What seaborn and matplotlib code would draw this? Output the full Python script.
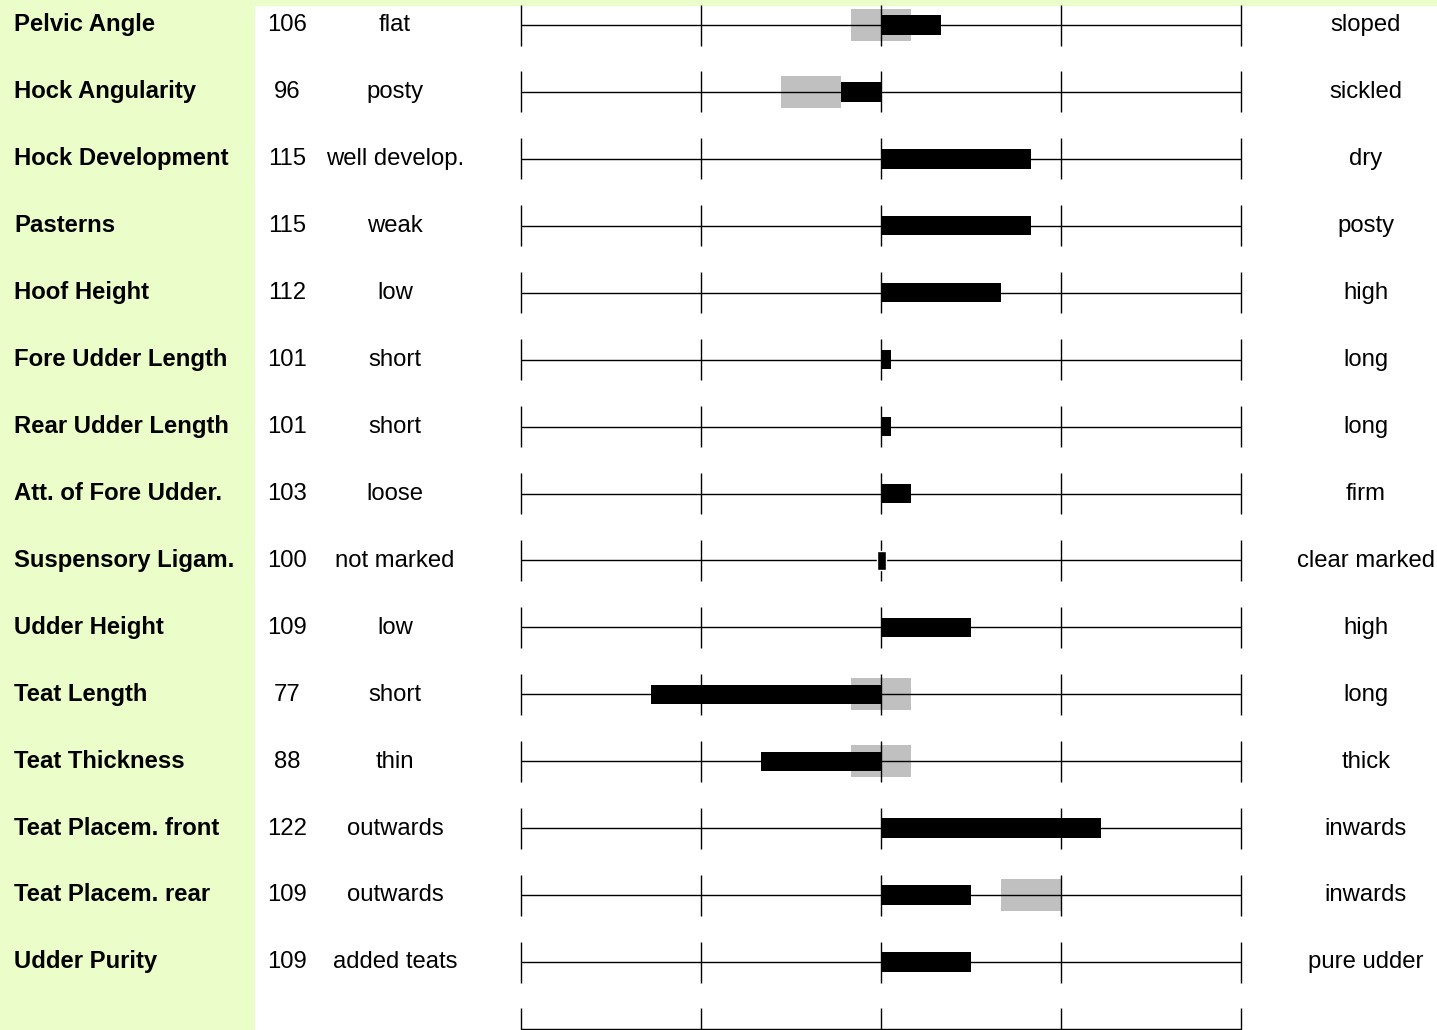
import matplotlib
matplotlib.use("Agg")
import matplotlib.pyplot as plt
import matplotlib.transforms as mtransforms
from matplotlib.patches import Rectangle
import numpy as np
import pandas as pd
import seaborn as sns

# === DATA ===
traits = ["Pelvic Angle", "Hock Angularity", "Hock Development", "Pasterns",
          "Hoof Height", "Fore Udder Length", "Rear Udder Length",
          "Att. of Fore Udder.", "Suspensory Ligam.", "Udder Height",
          "Teat Length", "Teat Thickness", "Teat Placem. front",
          "Teat Placem. rear", "Udder Purity"]
values = [106, 96, 115, 115, 112, 101, 101, 103, 100, 109, 77, 88, 122, 109, 109]
low_desc = ["flat", "posty", "well develop.", "weak", "low", "short", "short",
            "loose", "not marked", "low", "short", "thin", "outwards",
            "outwards", "added teats"]
high_desc = ["sloped", "sickled", "dry", "posty", "high", "long", "long",
             "firm", "clear marked", "high", "long", "thick", "inwards",
             "inwards", "pure udder"]

# optimum ranges shown as grey boxes
ref_traits = ["Pelvic Angle", "Hock Angularity", "Teat Length",
              "Teat Thickness", "Teat Placem. rear"]
ref_low = [97, 90, 97, 97, 112]
ref_high = [103, 96, 103, 103, 118]

scale_ticks = [64, 82, 100, 118, 136]
center = 100

# === LAYOUT (pixels of the 1437x1030 picture) ===
W, H = 1437, 1030
center_px = 881
px_per_unit = 10.0
row0_px, row_px = 25, 66.93

sns.set_theme(style="white")
plt.rcParams["font.family"] = ["Liberation Sans", "DejaVu Sans"]
plt.rcParams["text.color"] = "black"

fig = plt.figure(figsize=(W / 100, H / 100), dpi=100)
green = "#ebfdc8"
fig.patches.append(Rectangle((0, 0), 254 / W, 1, transform=fig.transFigure,
                             color=green, zorder=0))
fig.patches.append(Rectangle((0, 1 - 5 / H), 1, 5 / H, transform=fig.transFigure,
                             color=green, zorder=0))

ax = fig.add_axes([0, 0, 1, 1])
ax.set_zorder(2)
ax.patch.set_alpha(0)

df = pd.DataFrame({"trait": traits, "value": values})
df["dev"] = df["value"] - center

sns.barplot(data=df, x="dev", y="trait", order=traits, orient="h",
            color="black", width=0.29, errorbar=None, saturation=1,
            edgecolor="none", linewidth=0, zorder=3, ax=ax)

# zero deviation: small centred block
for i, d in enumerate(df["dev"]):
    if d == 0:
        ax.barh(i, 0.9, left=-0.45, height=0.29, color="black", zorder=3)

# grey optimum boxes
ref_rows = [traits.index(t) for t in ref_traits]
ax.barh(ref_rows, np.array(ref_high) - np.array(ref_low),
        left=np.array(ref_low) - center, height=0.48,
        color="#c0c0c0", linewidth=0, zorder=1)

# scale lines with ticks (one extra row at the bottom)
rows = np.arange(len(traits) + 1)
dev_ticks = [t - center for t in scale_ticks]
half = 20.5 / row_px
ax.hlines(rows, dev_ticks[0], dev_ticks[-1], color="black", lw=1.0, zorder=2)
for t in dev_ticks:
    ax.vlines(np.full(len(rows), t), rows - half, rows + half,
              color="black", lw=1.0, zorder=2)

# map axes to pixel layout
ax.set_xlim(-center_px / px_per_unit, (W - center_px) / px_per_unit)
ax.set_ylim((H - row0_px) / row_px, -row0_px / row_px)
ax.set_axis_off()

# text columns
trans = mtransforms.blended_transform_factory(fig.transFigure, ax.transData)
fs = 17.2
dy = 0.095
for i in range(len(traits)):
    y = i + dy
    ax.text(14 / W, y, traits[i], transform=trans, ha="left", va="baseline",
            fontsize=fs, fontweight="bold")
    ax.text(287 / W, y, str(values[i]), transform=trans, ha="center",
            va="baseline", fontsize=fs)
    ax.text(395 / W, y, low_desc[i], transform=trans, ha="center",
            va="baseline", fontsize=fs)
    ax.text(1366 / W, y, high_desc[i], transform=trans, ha="center",
            va="baseline", fontsize=fs)

fig.savefig("out.png", dpi=100)
